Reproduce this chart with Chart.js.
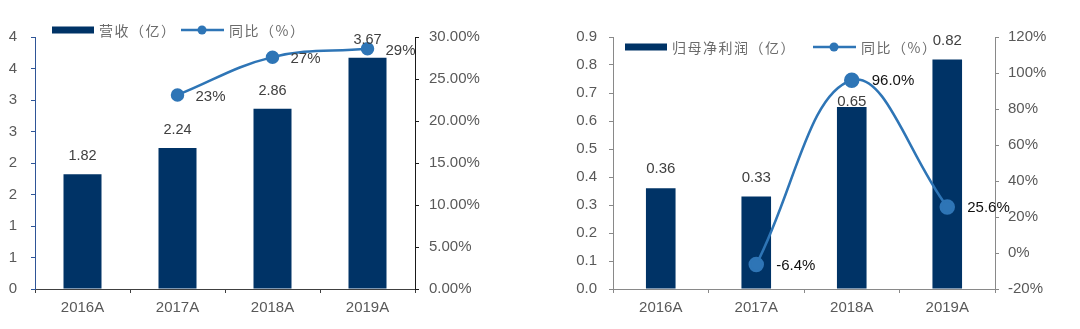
<!DOCTYPE html>
<html>
<head>
<meta charset="utf-8">
<script src="https://cdn.jsdelivr.net/npm/chart.js@4.4.1/dist/chart.umd.min.js"></script>
<style>
  body { margin: 0; background: #fff; }
  .wrap { position: absolute; top: 0; width: 540px; height: 329px; }
  #left { left: 0; }
  #right { left: 540px; }
</style>
</head>
<body>
<div class="wrap" id="left"><canvas id="revChart" width="540" height="329"></canvas></div>
<div class="wrap" id="right"><canvas id="profitChart" width="540" height="329"></canvas></div>
<script>
// 数据
const years = ['2016A', '2017A', '2018A', '2019A'];
const revenue = [1.82, 2.24, 2.86, 3.67];
const revenueYoY = [null, 23.1, 27.6, 28.6];
const revenueYoYText = ['', '23%', '27%', '29%'];
const revenueTicks = ['0', '1', '1', '2', '2', '3', '3', '4', '4'];

const profit = [0.36, 0.33, 0.65, 0.82];
const profitYoY = [null, -6.4, 96.0, 25.6];
const profitYoYText = ['', '-6.4%', '96.0%', '25.6%'];

const BAR = '#003366';
const LINE = '#2e75b6';
const TICK = '#595959';
const FONT = '"Liberation Sans", Arial, sans-serif';
const CJK = '"Noto Sans CJK SC", sans-serif';

// 数值标签
const valueLabels = {
    id: 'valueLabels',
    afterDatasetsDraw(chart, args, opts) {
        const ctx = chart.ctx;
        ctx.save();
        ctx.textBaseline = 'middle';
        chart.data.datasets.forEach((ds, di) => {
            const meta = chart.getDatasetMeta(di);
            meta.data.forEach((el, i) => {
                if (ds.data[i] == null) return;
                if (ds.type === 'bar') {
                    ctx.font = opts.barFont;
                    ctx.fillStyle = opts.barColor;
                    ctx.textAlign = 'center';
                    const shift = (opts.barShift || {})[i] || 0;
                    ctx.fillText(ds.data[i].toFixed(2), el.x, el.y - opts.barGap + shift);
                } else {
                    ctx.font = opts.lineFont;
                    ctx.fillStyle = opts.lineColor;
                    ctx.textAlign = 'left';
                    ctx.fillText(opts.lineText[i], el.x + opts.lineDx, el.y + opts.lineDy);
                }
            });
        });
        ctx.restore();
    }
};

// 图例
const insideLegend = {
    id: 'insideLegend',
    afterDraw(chart, args, opts) {
        const ctx = chart.ctx;
        const y = opts.y;
        const ds = chart.data.datasets;
        ctx.save();
        ctx.font = opts.font;
        ctx.letterSpacing = '1.5px';
        ctx.textBaseline = 'middle';
        ctx.textAlign = 'left';
        // 柱
        ctx.fillStyle = BAR;
        ctx.fillRect(opts.barX, y - 3.5, 42, 7);
        ctx.fillStyle = '#6b6b6b';
        ctx.fillText(ds[0].label, opts.barX + 47, y + 1);
        // 线
        ctx.strokeStyle = LINE;
        ctx.lineWidth = 2.5;
        ctx.beginPath();
        ctx.moveTo(opts.lineX, y);
        ctx.lineTo(opts.lineX + 43, y);
        ctx.stroke();
        ctx.fillStyle = LINE;
        ctx.beginPath();
        ctx.arc(opts.lineX + 21, y, 4.5, 0, Math.PI * 2);
        ctx.fill();
        ctx.fillStyle = '#6b6b6b';
        ctx.fillText(ds[1].label, opts.lineX + 48, y + 1);
        ctx.restore();
    }
};

function axisBase(color, width) {
    return {
        border: { color: color, width: 1 },
        grid: { drawOnChartArea: false, drawTicks: true, tickLength: 4, color: color },
        afterFit: s => { s.width = width; }
    };
}

function makeChart(id, cfg) {
    const leftAxis = axisBase(cfg.leftColor, cfg.leftWidth);
    const rightAxis = axisBase(cfg.rightColor, cfg.rightWidth);
    return new Chart(document.getElementById(id), {
        data: {
            labels: years,
            datasets: [
                {
                    type: 'bar', label: cfg.barLabel, data: cfg.bars, yAxisID: 'y',
                    backgroundColor: BAR, barPercentage: cfg.barPct, categoryPercentage: 1, order: 2
                },
                {
                    type: 'line', label: '同比（%）', data: cfg.line, yAxisID: 'y1',
                    borderColor: LINE, backgroundColor: LINE, borderWidth: 2.5,
                    pointRadius: cfg.pointR, pointHoverRadius: cfg.pointR, tension: 0.4, order: 1
                }
            ]
        },
        options: {
            responsive: false,
            devicePixelRatio: 1,
            animation: false,
            layout: { padding: { top: 37, left: 0, right: 0, bottom: 0 } },
            plugins: {
                legend: { display: false },
                tooltip: { enabled: false },
                valueLabels: cfg.labels,
                insideLegend: cfg.legend
            },
            scales: {
                x: {
                    offset: true,
                    border: { color: cfg.xColor, width: 1 },
                    grid: { offset: true, drawOnChartArea: false, drawTicks: true, tickLength: 4, color: cfg.xColor },
                    ticks: { color: TICK, font: { family: FONT, size: 15 }, padding: 6 },
                    afterFit: s => { s.height = 40; }
                },
                y: Object.assign(leftAxis, {
                    position: 'left',
                    min: cfg.yMin, max: cfg.yMax,
                    ticks: { stepSize: cfg.yStep, color: TICK, font: { family: FONT, size: 15 },
                             padding: cfg.leftPad, callback: cfg.yFmt }
                }),
                y1: Object.assign(rightAxis, {
                    position: 'right',
                    min: cfg.y1Min, max: cfg.y1Max,
                    ticks: { stepSize: cfg.y1Step, color: TICK, font: { family: FONT, size: 15 },
                             padding: cfg.rightPad, callback: cfg.y1Fmt }
                })
            }
        },
        plugins: [valueLabels, insideLegend]
    });
}

makeChart('revChart', {
    barLabel: '营收（亿）', bars: revenue, line: revenueYoY, barPct: 0.4, pointR: 5.5,
    leftColor: '#2f5597', rightColor: '#1a1a1a', xColor: '#404040',
    leftWidth: 35, rightWidth: 125, leftPad: 14, rightPad: 10,
    yMin: 0, yMax: 4, yStep: 0.5, yFmt: (v, i) => revenueTicks[i],
    y1Min: 0, y1Max: 30, y1Step: 5, y1Fmt: v => v.toFixed(2) + '%',
    labels: {
        barFont: '14.5px ' + FONT, barColor: '#404040', barGap: 18,
        lineFont: '15px ' + FONT, lineColor: '#404040', lineText: revenueYoYText, lineDx: 18, lineDy: 2
    },
    legend: { y: 30, barX: 52, lineX: 181, font: '14px ' + CJK }
});

makeChart('profitChart', {
    barLabel: '归母净利润（亿）', bars: profit, line: profitYoY, barPct: 0.31, pointR: 6.5,
    leftColor: '#898989', rightColor: '#898989', xColor: '#898989',
    leftWidth: 73, rightWidth: 85, leftPad: 12, rightPad: 9,
    yMin: 0, yMax: 0.9, yStep: 0.1, yFmt: v => v.toFixed(1),
    y1Min: -20, y1Max: 120, y1Step: 20, y1Fmt: v => v + '%',
    labels: {
        barFont: '15px ' + FONT, barColor: '#404040', barGap: 19, barShift: { 2: 14 },
        lineFont: '15px ' + FONT, lineColor: '#111111', lineText: profitYoYText, lineDx: 20, lineDy: 1
    },
    legend: { y: 47, barX: 85, lineX: 273, font: '14px ' + CJK }
});
</script>
</body>
</html>
